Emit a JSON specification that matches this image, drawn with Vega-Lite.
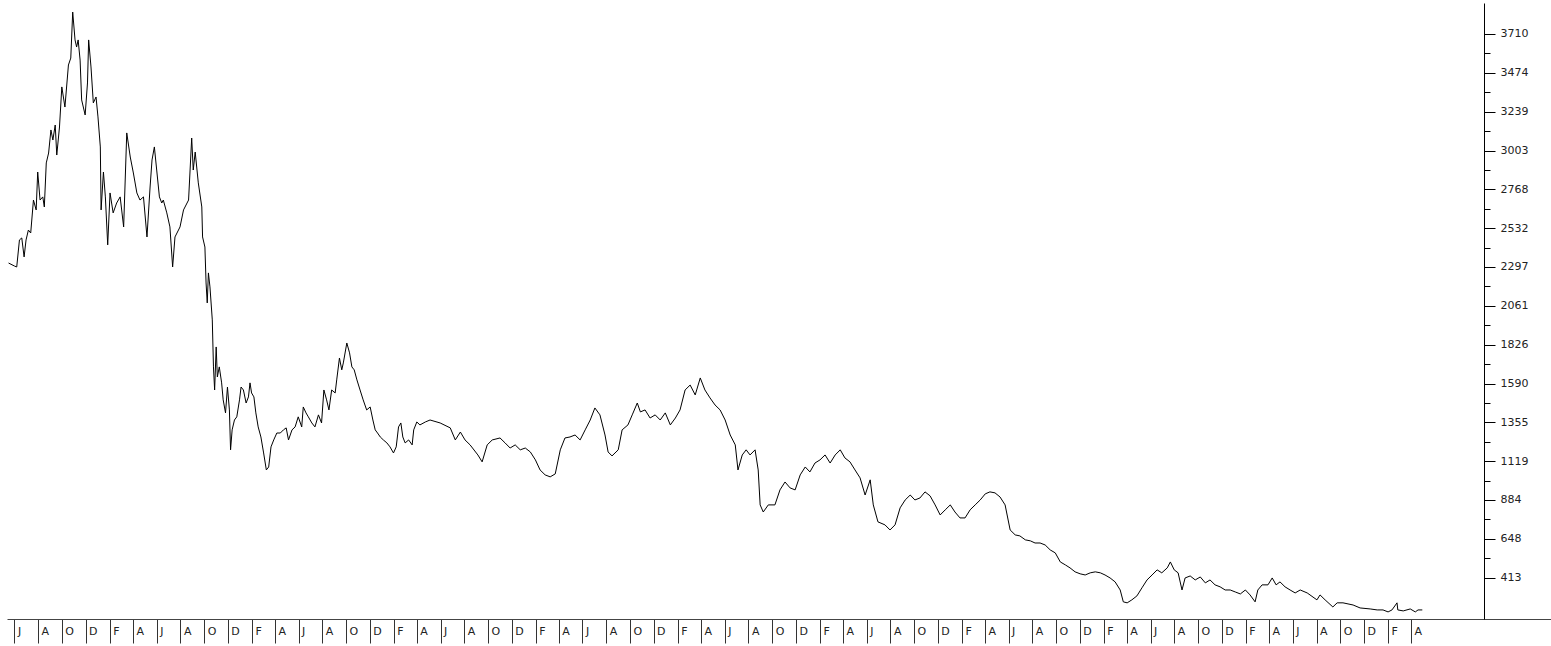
{
  "$schema": "https://vega.github.io/schema/vega-lite/v6.json",
  "width": 1544,
  "height": 616,
  "autosize": {"type": "none"},
  "padding": {"left": 7, "top": 3, "right": 0, "bottom": 27},
  "background": "white",
  "view": {"stroke": null},
  "config": {"font": "DejaVu Sans"},
  "data": {"values": [
    {"d":"2011-05-17","v":2321},{"d":"2011-06-01","v":2303},{"d":"2011-06-07","v":2297},{"d":"2011-06-14","v":2461},{"d":"2011-06-20","v":2473},{"d":"2011-06-26","v":2358},{"d":"2011-07-01","v":2461},{"d":"2011-07-07","v":2521},{"d":"2011-07-13","v":2503},{"d":"2011-07-20","v":2703},{"d":"2011-07-27","v":2643},{"d":"2011-07-31","v":2873},
    {"d":"2011-08-06","v":2703},{"d":"2011-08-13","v":2722},{"d":"2011-08-17","v":2661},{"d":"2011-08-22","v":2928},{"d":"2011-08-28","v":2988},{"d":"2011-09-03","v":3128},{"d":"2011-09-08","v":3067},{"d":"2011-09-14","v":3158},{"d":"2011-09-18","v":2976},{"d":"2011-09-25","v":3146},
    {"d":"2011-10-01","v":3389},{"d":"2011-10-09","v":3267},{"d":"2011-10-18","v":3522},{"d":"2011-10-24","v":3564},{"d":"2011-10-29","v":3843},{"d":"2011-11-04","v":3674},{"d":"2011-11-08","v":3631},{"d":"2011-11-12","v":3674},{"d":"2011-11-17","v":3552},{"d":"2011-11-21","v":3310},{"d":"2011-11-30","v":3219},
    {"d":"2011-12-06","v":3413},{"d":"2011-12-09","v":3674},{"d":"2011-12-15","v":3510},{"d":"2011-12-21","v":3292},{"d":"2011-12-28","v":3328},{"d":"2012-01-02","v":3207},{"d":"2012-01-08","v":3025},{"d":"2012-01-10","v":2643},{"d":"2012-01-16","v":2873},{"d":"2012-01-21","v":2722},{"d":"2012-01-27","v":2431},
    {"d":"2012-02-02","v":2746},{"d":"2012-02-10","v":2625},{"d":"2012-02-19","v":2685},{"d":"2012-02-28","v":2722},{"d":"2012-03-08","v":2540},{"d":"2012-03-16","v":3110},{"d":"2012-03-25","v":2964},{"d":"2012-04-02","v":2867},{"d":"2012-04-11","v":2746},{"d":"2012-04-19","v":2703},{"d":"2012-04-28","v":2722},
    {"d":"2012-05-07","v":2479},{"d":"2012-05-15","v":2782},{"d":"2012-05-20","v":2946},{"d":"2012-05-26","v":3025},{"d":"2012-06-01","v":2885},{"d":"2012-06-08","v":2722},{"d":"2012-06-14","v":2685},{"d":"2012-06-18","v":2703},{"d":"2012-06-27","v":2625},{"d":"2012-07-05","v":2540},{"d":"2012-07-12","v":2297},{"d":"2012-07-18","v":2479},{"d":"2012-07-27","v":2521},{"d":"2012-07-31","v":2540},
    {"d":"2012-08-09","v":2643},{"d":"2012-08-22","v":2703},{"d":"2012-08-30","v":3079},{"d":"2012-09-03","v":2885},{"d":"2012-09-08","v":2994},{"d":"2012-09-16","v":2807},{"d":"2012-09-25","v":2661},{"d":"2012-09-27","v":2479},{"d":"2012-10-03","v":2418},{"d":"2012-10-06","v":2200},{"d":"2012-10-09","v":2079},{"d":"2012-10-12","v":2261},{"d":"2012-10-16","v":2176},{"d":"2012-10-22","v":1976},{"d":"2012-10-25","v":1691},{"d":"2012-10-28","v":1551},
    {"d":"2012-11-01","v":1812},{"d":"2012-11-04","v":1630},{"d":"2012-11-09","v":1691},{"d":"2012-11-15","v":1594},{"d":"2012-11-19","v":1491},{"d":"2012-11-25","v":1412},{"d":"2012-11-30","v":1569},{"d":"2012-12-05","v":1430},{"d":"2012-12-08","v":1188},{"d":"2012-12-12","v":1309},{"d":"2012-12-18","v":1369},{"d":"2012-12-24","v":1388},{"d":"2012-12-31","v":1491},
    {"d":"2013-01-04","v":1569},{"d":"2013-01-10","v":1551},{"d":"2013-01-17","v":1472},{"d":"2013-01-23","v":1509},{"d":"2013-01-27","v":1594},{"d":"2013-01-31","v":1533},{"d":"2013-02-06","v":1509},{"d":"2013-02-11","v":1412},{"d":"2013-02-17","v":1327},{"d":"2013-02-24","v":1266},{"d":"2013-03-03","v":1169},{"d":"2013-03-10","v":1066},{"d":"2013-03-16","v":1084},{"d":"2013-03-22","v":1206},{"d":"2013-03-29","v":1248},
    {"d":"2013-04-06","v":1290},{"d":"2013-04-15","v":1290},{"d":"2013-04-23","v":1309},{"d":"2013-04-30","v":1321},{"d":"2013-05-06","v":1248},{"d":"2013-05-15","v":1309},{"d":"2013-05-23","v":1327},{"d":"2013-05-31","v":1388},{"d":"2013-06-09","v":1327},{"d":"2013-06-13","v":1448},{"d":"2013-06-20","v":1412},{"d":"2013-06-26","v":1388},
    {"d":"2013-07-05","v":1351},{"d":"2013-07-13","v":1327},{"d":"2013-07-22","v":1400},{"d":"2013-07-30","v":1351},{"d":"2013-08-05","v":1551},{"d":"2013-08-12","v":1491},{"d":"2013-08-18","v":1430},{"d":"2013-08-25","v":1551},{"d":"2013-09-03","v":1533},{"d":"2013-09-07","v":1612},{"d":"2013-09-14","v":1745},{"d":"2013-09-20","v":1673},{"d":"2013-09-24","v":1715},
    {"d":"2013-10-03","v":1836},{"d":"2013-10-10","v":1776},{"d":"2013-10-16","v":1691},{"d":"2013-10-22","v":1673},{"d":"2013-10-29","v":1612},{"d":"2013-11-06","v":1551},{"d":"2013-11-14","v":1491},{"d":"2013-11-23","v":1430},{"d":"2013-12-02","v":1448},{"d":"2013-12-09","v":1369},{"d":"2013-12-15","v":1309},{"d":"2013-12-21","v":1290},{"d":"2013-12-28","v":1266},
    {"d":"2014-01-05","v":1248},{"d":"2014-01-14","v":1230},{"d":"2014-01-22","v":1206},{"d":"2014-01-31","v":1169},{"d":"2014-02-07","v":1206},{"d":"2014-02-13","v":1327},{"d":"2014-02-19","v":1351},{"d":"2014-02-24","v":1266},{"d":"2014-03-02","v":1230},{"d":"2014-03-11","v":1248},{"d":"2014-03-20","v":1218},{"d":"2014-03-24","v":1309},
    {"d":"2014-04-01","v":1357},{"d":"2014-04-09","v":1339},{"d":"2014-04-23","v":1357},{"d":"2014-05-05","v":1369},{"d":"2014-05-31","v":1351},{"d":"2014-06-26","v":1321},{"d":"2014-07-09","v":1248},{"d":"2014-07-22","v":1296},{"d":"2014-08-03","v":1248},{"d":"2014-08-16","v":1218},{"d":"2014-09-05","v":1157},{"d":"2014-09-16","v":1115},{"d":"2014-09-29","v":1218},
    {"d":"2014-10-12","v":1248},{"d":"2014-11-01","v":1260},{"d":"2014-11-14","v":1230},{"d":"2014-11-27","v":1199},{"d":"2014-12-10","v":1218},{"d":"2014-12-23","v":1188},{"d":"2015-01-05","v":1199},{"d":"2015-01-18","v":1175},{"d":"2015-01-31","v":1127},{"d":"2015-02-12","v":1066},{"d":"2015-02-25","v":1036},{"d":"2015-03-10","v":1024},{"d":"2015-03-23","v":1042},
    {"d":"2015-04-05","v":1188},{"d":"2015-04-17","v":1260},{"d":"2015-04-30","v":1266},{"d":"2015-05-13","v":1278},{"d":"2015-05-26","v":1248},{"d":"2015-06-08","v":1309},{"d":"2015-06-21","v":1369},{"d":"2015-07-03","v":1442},{"d":"2015-07-16","v":1400},{"d":"2015-07-29","v":1278},{"d":"2015-08-06","v":1175},{"d":"2015-08-16","v":1151},
    {"d":"2015-09-01","v":1188},{"d":"2015-09-11","v":1309},{"d":"2015-09-26","v":1339},{"d":"2015-10-07","v":1400},{"d":"2015-10-20","v":1472},{"d":"2015-10-28","v":1418},{"d":"2015-11-09","v":1430},{"d":"2015-11-22","v":1381},{"d":"2015-12-05","v":1400},{"d":"2015-12-18","v":1369},{"d":"2015-12-31","v":1412},
    {"d":"2016-01-13","v":1339},{"d":"2016-01-26","v":1381},{"d":"2016-02-07","v":1430},{"d":"2016-02-20","v":1551},{"d":"2016-03-04","v":1581},{"d":"2016-03-17","v":1521},{"d":"2016-03-30","v":1624},{"d":"2016-04-11","v":1551},{"d":"2016-04-24","v":1503},{"d":"2016-05-07","v":1460},{"d":"2016-05-20","v":1430},{"d":"2016-06-02","v":1369},{"d":"2016-06-15","v":1278},{"d":"2016-06-28","v":1218},
    {"d":"2016-07-05","v":1066},{"d":"2016-07-16","v":1157},{"d":"2016-07-26","v":1188},{"d":"2016-08-05","v":1157},{"d":"2016-08-18","v":1188},{"d":"2016-08-26","v":1066},{"d":"2016-08-31","v":854},{"d":"2016-09-08","v":811},{"d":"2016-09-21","v":854},{"d":"2016-10-08","v":854},{"d":"2016-10-21","v":945},{"d":"2016-11-03","v":993},{"d":"2016-11-16","v":957},{"d":"2016-11-29","v":945},{"d":"2016-12-12","v":1036},{"d":"2016-12-25","v":1084},
    {"d":"2017-01-06","v":1054},{"d":"2017-01-19","v":1108},{"d":"2017-02-01","v":1127},{"d":"2017-02-14","v":1157},{"d":"2017-02-27","v":1108},{"d":"2017-03-12","v":1157},{"d":"2017-03-25","v":1188},{"d":"2017-04-06","v":1139},{"d":"2017-04-19","v":1115},{"d":"2017-05-02","v":1066},{"d":"2017-05-15","v":1018},{"d":"2017-05-28","v":914},{"d":"2017-06-10","v":1006},{"d":"2017-06-18","v":854},{"d":"2017-06-30","v":751},
    {"d":"2017-07-18","v":733},{"d":"2017-07-31","v":702},{"d":"2017-08-13","v":733},{"d":"2017-08-26","v":836},{"d":"2017-09-08","v":884},{"d":"2017-09-21","v":914},{"d":"2017-10-03","v":884},{"d":"2017-10-16","v":896},{"d":"2017-10-29","v":933},{"d":"2017-11-11","v":909},{"d":"2017-11-24","v":854},{"d":"2017-12-07","v":793},{"d":"2017-12-20","v":824},
    {"d":"2018-01-02","v":854},{"d":"2018-01-14","v":811},{"d":"2018-01-27","v":775},{"d":"2018-02-09","v":775},{"d":"2018-02-22","v":824},{"d":"2018-03-07","v":854},{"d":"2018-03-20","v":884},{"d":"2018-04-02","v":921},{"d":"2018-04-14","v":933},{"d":"2018-04-27","v":927},{"d":"2018-05-10","v":902},{"d":"2018-05-23","v":854},
    {"d":"2018-06-05","v":702},{"d":"2018-06-18","v":672},{"d":"2018-06-30","v":666},{"d":"2018-07-14","v":642},{"d":"2018-07-27","v":636},{"d":"2018-08-08","v":623},{"d":"2018-08-21","v":623},{"d":"2018-09-03","v":611},{"d":"2018-09-16","v":581},{"d":"2018-09-29","v":563},{"d":"2018-10-12","v":508},{"d":"2018-10-25","v":490},{"d":"2018-11-06","v":472},{"d":"2018-11-19","v":448},{"d":"2018-12-02","v":436},{"d":"2018-12-15","v":429},{"d":"2018-12-28","v":442},
    {"d":"2019-01-10","v":448},{"d":"2019-01-23","v":442},{"d":"2019-02-04","v":429},{"d":"2019-02-17","v":411},{"d":"2019-03-02","v":387},{"d":"2019-03-15","v":338},{"d":"2019-03-23","v":266},{"d":"2019-04-02","v":260},{"d":"2019-04-14","v":278},{"d":"2019-04-27","v":302},{"d":"2019-05-10","v":351},{"d":"2019-05-23","v":399},{"d":"2019-06-05","v":429},{"d":"2019-06-18","v":460},{"d":"2019-06-30","v":442},
    {"d":"2019-07-14","v":472},{"d":"2019-07-22","v":508},{"d":"2019-08-01","v":460},{"d":"2019-08-11","v":442},{"d":"2019-08-21","v":338},{"d":"2019-08-29","v":411},{"d":"2019-09-11","v":423},{"d":"2019-09-24","v":399},{"d":"2019-10-07","v":417},{"d":"2019-10-20","v":381},{"d":"2019-11-01","v":399},{"d":"2019-11-14","v":369},{"d":"2019-11-27","v":357},{"d":"2019-12-10","v":338},{"d":"2019-12-23","v":338},
    {"d":"2020-01-05","v":326},{"d":"2020-01-18","v":314},{"d":"2020-01-31","v":338},{"d":"2020-02-12","v":308},{"d":"2020-02-25","v":266},{"d":"2020-03-03","v":338},{"d":"2020-03-14","v":369},{"d":"2020-03-29","v":369},{"d":"2020-04-09","v":411},{"d":"2020-04-19","v":369},{"d":"2020-04-29","v":387},{"d":"2020-05-12","v":357},{"d":"2020-05-25","v":338},{"d":"2020-06-07","v":320},{"d":"2020-06-20","v":338},
    {"d":"2020-07-08","v":320},{"d":"2020-08-02","v":278},{"d":"2020-08-10","v":308},{"d":"2020-08-23","v":278},{"d":"2020-09-12","v":235},{"d":"2020-09-23","v":260},{"d":"2020-10-08","v":260},{"d":"2020-11-03","v":247},{"d":"2020-11-21","v":229},{"d":"2020-12-17","v":223},
    {"d":"2021-01-04","v":217},{"d":"2021-01-19","v":217},{"d":"2021-02-01","v":205},{"d":"2021-02-11","v":217},{"d":"2021-02-24","v":260},{"d":"2021-02-26","v":217},{"d":"2021-03-12","v":211},{"d":"2021-03-30","v":223},{"d":"2021-04-12","v":205},{"d":"2021-04-19","v":217},{"d":"2021-04-30","v":217}
  ]},
  "mark": {"type": "line", "color": "black", "strokeWidth": 1, "clip": true},
  "encoding": {
    "x": {
      "field": "d", "type": "temporal", "title": null,
      "scale": {"type": "utc", "domain": [{"year": 2011, "month": 5, "date": 13, "utc": true}, {"year": 2022, "month": 3, "date": 27, "utc": true}]},
      "axis": {
        "orient": "bottom", "grid": false,
        "domainColor": "#444", "domainWidth": 1,
        "tickColor": "#333", "tickWidth": 1, "tickSize": 24,
        "labelAlign": "left", "labelBaseline": "middle", "labelPadding": -12, "labelOffset": 3,
        "labelFont": "DejaVu Sans", "labelFontSize": 11, "labelColor": "#222",
        "labelOverlap": false, "labelFlush": false, "labelBound": false,
        "labelExpr": "slice(utcFormat(datum.value, '%b'), 0, 1)",
        "values": [
          {"year":2011,"month":6,"date":1,"utc":true},{"year":2011,"month":8,"date":1,"utc":true},{"year":2011,"month":10,"date":1,"utc":true},{"year":2011,"month":12,"date":1,"utc":true},
          {"year":2012,"month":2,"date":1,"utc":true},{"year":2012,"month":4,"date":1,"utc":true},{"year":2012,"month":6,"date":1,"utc":true},{"year":2012,"month":8,"date":1,"utc":true},{"year":2012,"month":10,"date":1,"utc":true},{"year":2012,"month":12,"date":1,"utc":true},
          {"year":2013,"month":2,"date":1,"utc":true},{"year":2013,"month":4,"date":1,"utc":true},{"year":2013,"month":6,"date":1,"utc":true},{"year":2013,"month":8,"date":1,"utc":true},{"year":2013,"month":10,"date":1,"utc":true},{"year":2013,"month":12,"date":1,"utc":true},
          {"year":2014,"month":2,"date":1,"utc":true},{"year":2014,"month":4,"date":1,"utc":true},{"year":2014,"month":6,"date":1,"utc":true},{"year":2014,"month":8,"date":1,"utc":true},{"year":2014,"month":10,"date":1,"utc":true},{"year":2014,"month":12,"date":1,"utc":true},
          {"year":2015,"month":2,"date":1,"utc":true},{"year":2015,"month":4,"date":1,"utc":true},{"year":2015,"month":6,"date":1,"utc":true},{"year":2015,"month":8,"date":1,"utc":true},{"year":2015,"month":10,"date":1,"utc":true},{"year":2015,"month":12,"date":1,"utc":true},
          {"year":2016,"month":2,"date":1,"utc":true},{"year":2016,"month":4,"date":1,"utc":true},{"year":2016,"month":6,"date":1,"utc":true},{"year":2016,"month":8,"date":1,"utc":true},{"year":2016,"month":10,"date":1,"utc":true},{"year":2016,"month":12,"date":1,"utc":true},
          {"year":2017,"month":2,"date":1,"utc":true},{"year":2017,"month":4,"date":1,"utc":true},{"year":2017,"month":6,"date":1,"utc":true},{"year":2017,"month":8,"date":1,"utc":true},{"year":2017,"month":10,"date":1,"utc":true},{"year":2017,"month":12,"date":1,"utc":true},
          {"year":2018,"month":2,"date":1,"utc":true},{"year":2018,"month":4,"date":1,"utc":true},{"year":2018,"month":6,"date":1,"utc":true},{"year":2018,"month":8,"date":1,"utc":true},{"year":2018,"month":10,"date":1,"utc":true},{"year":2018,"month":12,"date":1,"utc":true},
          {"year":2019,"month":2,"date":1,"utc":true},{"year":2019,"month":4,"date":1,"utc":true},{"year":2019,"month":6,"date":1,"utc":true},{"year":2019,"month":8,"date":1,"utc":true},{"year":2019,"month":10,"date":1,"utc":true},{"year":2019,"month":12,"date":1,"utc":true},
          {"year":2020,"month":2,"date":1,"utc":true},{"year":2020,"month":4,"date":1,"utc":true},{"year":2020,"month":6,"date":1,"utc":true},{"year":2020,"month":8,"date":1,"utc":true},{"year":2020,"month":10,"date":1,"utc":true},{"year":2020,"month":12,"date":1,"utc":true},
          {"year":2021,"month":2,"date":1,"utc":true},{"year":2021,"month":4,"date":1,"utc":true}
        ]
      }
    },
    "y": {
      "field": "v", "type": "quantitative", "title": null,
      "scale": {"domain": [162, 3898], "nice": false, "zero": false},
      "axis": {
        "orient": "right", "offset": -67, "grid": false,
        "domainColor": "black", "domainWidth": 1,
        "tickColor": "black", "tickWidth": 1,
        "tickSize": {"condition": {"test": "datum.value % 1 === 0", "value": 11}, "value": 6},
        "labelPadding": 5, "labelFont": "DejaVu Sans", "labelFontSize": 11, "labelColor": "#222",
        "labelBaseline": "middle", "labelOverlap": false, "labelFlush": false,
        "format": "d",
        "labelExpr": "datum.value % 1 === 0 ? datum.label : ''",
        "values": [413, 530.75, 648, 766.25, 884, 1001.75, 1119, 1237.25, 1355, 1472.75, 1590, 1708.25, 1826, 1943.75, 2061, 2179.25, 2297, 2414.75, 2532, 2650.25, 2768, 2885.75, 3003, 3121.25, 3239, 3356.75, 3474, 3592.25, 3710]
      }
    }
  }
}
